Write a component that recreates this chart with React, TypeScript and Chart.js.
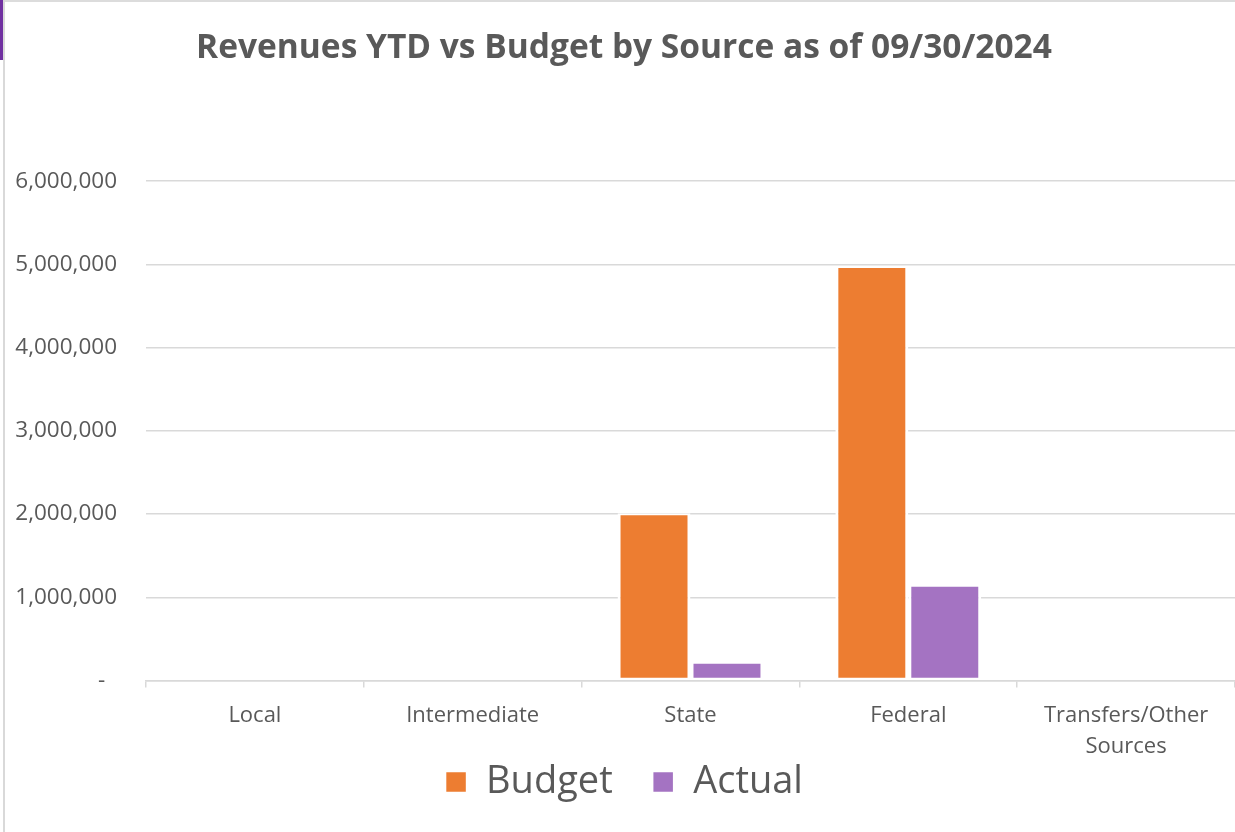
import React, { useEffect, useRef } from "react";
import { Chart, registerables } from "chart.js";

Chart.register(...registerables);

const TITLE = "Revenues YTD vs Budget by Source as of 09/30/2024";
const categoryLines: string[][] = [
  ["Local"],
  ["Intermediate"],
  ["State"],
  ["Federal"],
  ["Transfers/Other", "Sources"],
];
const budgetValues = [0, 0, 2010000, 4980000, 0];
const actualValues = [0, 0, 225000, 1150000, 0];
const yTickValues = [0, 1000000, 2000000, 3000000, 4000000, 5000000, 6000000];

const FONT = "'Open Sans', sans-serif";
const TEXT = "#595959";
const GRID = "#d9d9d9";
const ORANGE = "#ED7D31";
const PURPLE = "#A473C2";

export default function App() {
  const ref = useRef<HTMLCanvasElement>(null);

  useEffect(() => {
    const barBorder = { top: 2, bottom: 2, left: 3, right: 3 };
    const chart = new Chart(ref.current as HTMLCanvasElement, {
      type: "bar",
      data: {
        labels: categoryLines,
        datasets: [
          {
            label: "Budget",
            data: budgetValues,
            backgroundColor: ORANGE,
            borderColor: "#ffffff",
            borderWidth: barBorder,
            borderSkipped: false,
            categoryPercentage: 0.67,
            barPercentage: 1,
          },
          {
            label: "Actual",
            data: actualValues,
            backgroundColor: PURPLE,
            borderColor: "#ffffff",
            borderWidth: barBorder,
            borderSkipped: false,
            categoryPercentage: 0.67,
            barPercentage: 1,
          },
        ],
      },
      options: {
        animation: false,
        responsive: false,
        maintainAspectRatio: false,
        layout: { padding: { top: 0, left: 0, right: 0, bottom: 21 } },
        plugins: {
          title: {
            display: true,
            text: TITLE,
            color: TEXT,
            font: { family: FONT, size: 33.5, weight: "bold" },
            padding: { top: 25, bottom: 113 },
          },
          legend: {
            position: "bottom",
            labels: {
              color: TEXT,
              font: { family: FONT, size: 38 },
              boxWidth: 22,
              boxHeight: 22,
              padding: 0,
              generateLabels: (c: any) => {
                const items = (Chart.defaults.plugins.legend.labels as any).generateLabels(c);
                items.forEach((it: any, i: number) => {
                  if (i < items.length - 1) it.text = it.text + "    ";
                });
                return items;
              },
            },
          },
          tooltip: { enabled: false },
        },
        scales: {
          x: {
            z: 1,
            grid: {
              drawOnChartArea: false,
              drawTicks: true,
              tickLength: 7,
              color: GRID,
              lineWidth: 1.5,
              offset: true,
            },
            border: { display: true, color: GRID, width: 1.5 },
            ticks: {
              color: TEXT,
              font: { family: FONT, size: 22, lineHeight: 1.41 },
              padding: 13,
              maxRotation: 0,
              autoSkip: false,
            },
            afterFit: (s: any) => {
              s.height = 82.5;
            },
          },
          y: {
            min: 0,
            max: 6000000,
            afterBuildTicks: (s: any) => {
              s.ticks = yTickValues.map((v) => ({ value: v }));
            },
            grid: { color: GRID, lineWidth: 1.5, drawTicks: false },
            border: { display: false },
            ticks: {
              color: TEXT,
              font: { family: FONT, size: 22.5 },
              padding: 29,
              callback: (v: any) =>
                Number(v) === 0 ? "-  " : Number(v).toLocaleString("en-US"),
            },
            afterFit: (s: any) => {
              s.width = 133;
            },
          },
        },
      },
    } as any);
    return () => chart.destroy();
  }, []);

  return (
    <div
      style={{
        position: "fixed",
        left: 0,
        top: 0,
        width: 1235,
        height: 832,
        background: "#ffffff",
        overflow: "hidden",
      }}
    >
      <div style={{ position: "absolute", left: 0, top: 0, width: 3, height: 60, background: "#7030A0" }} />
      <div style={{ position: "absolute", left: 3, top: 0, width: 2, height: 832, background: "#d9d9d9" }} />
      <div style={{ position: "absolute", left: 5, top: 0, width: 1230, height: 2, background: "#dcdcdc" }} />
      <canvas
        ref={ref}
        width={1222}
        height={829}
        style={{ position: "absolute", left: 13, top: 3, width: 1222, height: 829 }}
      />
    </div>
  );
}
